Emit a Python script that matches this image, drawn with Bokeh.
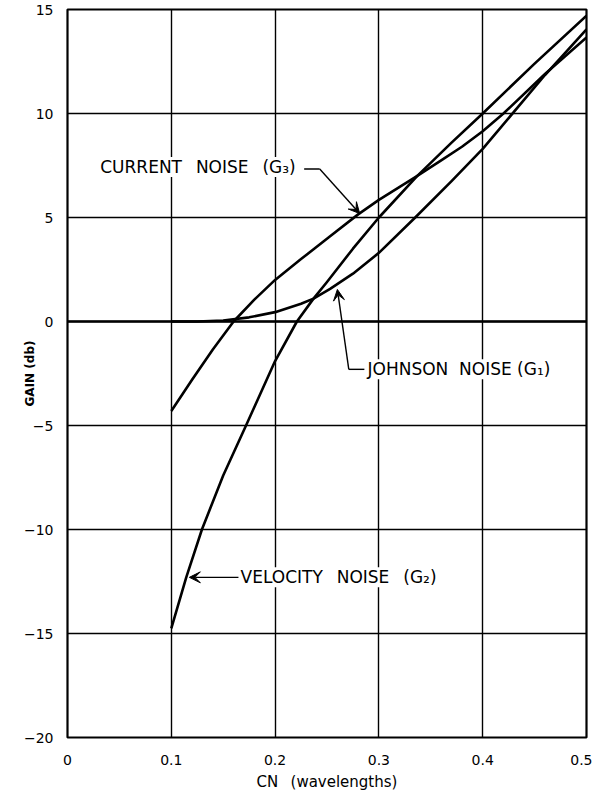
from bokeh.plotting import figure
from bokeh.models import Range1d, FixedTicker, Label, Arrow, VeeHead, Span
from bokeh.embed import file_html
from bokeh.resources import INLINE

# ---- data ----
vel_x = [0.100, 0.1144, 0.1295, 0.150, 0.172, 0.200, 0.221, 0.237, 0.250, 0.275, 0.300, 0.337, 0.370, 0.400, 0.450, 0.500]
vel_y = [-14.75, -12.3, -10.0, -7.4, -5.0, -1.9, 0.0, 1.1, 1.9, 3.5, 5.0, 7.0, 8.6, 10.0, 12.4, 14.7]

cur_x = [0.100, 0.120, 0.140, 0.160, 0.180, 0.200, 0.225, 0.253, 0.280, 0.300, 0.337, 0.360, 0.380, 0.400, 0.420, 0.460, 0.500]
cur_y = [-4.3, -2.8, -1.35, 0.0, 1.05, 2.0, 3.0, 4.1, 5.15, 5.85, 7.0, 7.75, 8.4, 9.15, 10.0, 11.9, 13.65]

joh_x = [0.100, 0.125, 0.150, 0.175, 0.200, 0.225, 0.237, 0.253, 0.275, 0.300, 0.335, 0.370, 0.400, 0.460, 0.500]
joh_y = [0.0, 0.0, 0.05, 0.2, 0.45, 0.85, 1.1, 1.57, 2.3, 3.3, 5.0, 6.75, 8.3, 11.85, 14.05]

x_ticks = [0, 0.1, 0.2, 0.3, 0.4, 0.5]
x_tick_labels = ["0", "0.1", "0.2", "0.3", "0.4", "0.5"]
y_ticks = [-20, -15, -10, -5, 0, 5, 10, 15]

SP = " \u2002"  # wide word gap as in the lettering
cur_label = "CURRENT" + SP + "NOISE" + SP + "(G\u2083)"
cur_label_pos = (0.0315, 7.43)
cur_leader_x = [0.228, 0.243, 0.2815]
cur_leader_y = [7.33, 7.33, 5.19]

joh_label = "JOHNSON\u00a0 NOISE (G\u2081)"
joh_label_pos = (0.289, -2.3)
joh_leader_x = [0.260, 0.271, 0.286]
joh_leader_y = [1.54, -2.3, -2.3]

vel_label = "VELOCITY" + SP + "NOISE" + SP + "(G\u2082)"
vel_label_pos = (0.1667, -12.3)
vel_leader_x = [0.1174, 0.1647]
vel_leader_y = [-12.3, -12.3]

x_title = "CN" + SP + "(wavelengths)"
y_title = "GAIN (db)"

FONT = "DejaVu Sans"

p = figure(width=592, height=793, output_backend="svg", toolbar_location=None,
           x_range=Range1d(0, 0.5), y_range=Range1d(-20, 15),
           min_border_left=67, min_border_right=6, min_border_top=9, min_border_bottom=52)
p.background_fill_color = "white"
p.border_fill_color = "white"
p.outline_line_color = "black"
p.outline_line_width = 2.2

xt = FixedTicker(ticks=x_ticks)
yt = FixedTicker(ticks=y_ticks)
p.xaxis.ticker = xt
p.yaxis.ticker = yt
p.xgrid.ticker = xt
p.ygrid.ticker = yt
for g in (p.xgrid, p.ygrid):
    g.grid_line_color = "black"
    g.grid_line_width = 1.4
    g.grid_line_alpha = 1.0
p.xaxis.major_label_overrides = {t: l for t, l in zip(x_ticks, x_tick_labels)}

for ax in (p.xaxis, p.yaxis):
    ax.axis_line_color = None
    ax.major_tick_line_color = None
    ax.minor_tick_line_color = None
    ax.major_tick_out = 0
    ax.major_label_text_font = FONT
    ax.major_label_text_font_size = "14px"
    ax.major_label_text_color = "black"
    ax.axis_label_text_font = FONT
    ax.axis_label_text_font_size = "15px"
    ax.axis_label_text_font_style = "normal"
    ax.axis_label_text_color = "black"

p.xaxis.axis_label = x_title
p.xaxis.major_label_standoff = 17
p.xaxis.axis_label_standoff = 5
p.yaxis.axis_label = y_title
p.yaxis.major_label_standoff = 14
p.yaxis.axis_label_standoff = -16
p.yaxis.axis_label_text_font_size = "12px"
p.yaxis.axis_label_text_font_style = "bold"

p.add_layout(Span(location=0, dimension="width", line_color="black", line_width=2.4))

for xs, ys in ((vel_x, vel_y), (cur_x, cur_y), (joh_x, joh_y)):
    p.line(xs, ys, line_color="black", line_width=2.6, line_join="round")

# leaders
p.line(cur_leader_x[:2], cur_leader_y[:2], line_color="black", line_width=1.4)
p.add_layout(Arrow(x_start=cur_leader_x[1], y_start=cur_leader_y[1], x_end=cur_leader_x[2], y_end=cur_leader_y[2],
                   line_width=1.4, end=VeeHead(size=11, fill_color="black", line_color="black")))
p.line(joh_leader_x[1:], joh_leader_y[1:], line_color="black", line_width=1.4)
p.add_layout(Arrow(x_start=joh_leader_x[1], y_start=joh_leader_y[1], x_end=joh_leader_x[0], y_end=joh_leader_y[0],
                   line_width=1.4, end=VeeHead(size=11, fill_color="black", line_color="black")))
p.add_layout(Arrow(x_start=vel_leader_x[1], y_start=vel_leader_y[1], x_end=vel_leader_x[0], y_end=vel_leader_y[0],
                   line_width=1.4, end=VeeHead(size=11, fill_color="black", line_color="black")))

for txt, (lx, ly) in ((cur_label, cur_label_pos), (joh_label, joh_label_pos), (vel_label, vel_label_pos)):
    p.add_layout(Label(x=lx, y=ly, text=txt, text_font=FONT, text_font_size="17px",
                       text_baseline="middle", text_align="left", text_color="black",
                       background_fill_color="white"))

open("out.html", "w").write(file_html(p, INLINE))
